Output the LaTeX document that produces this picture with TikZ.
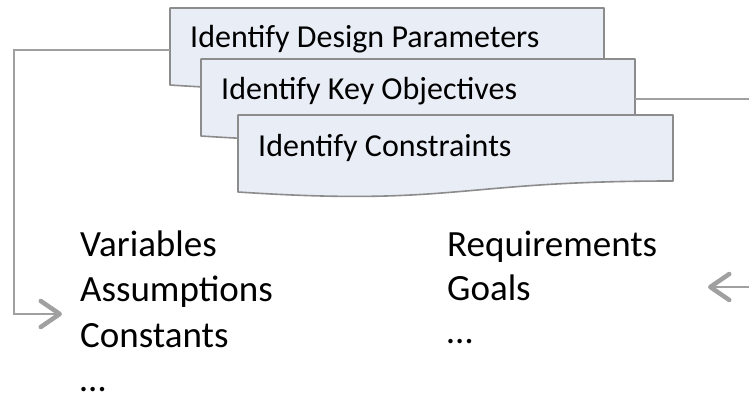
\documentclass[tikz,border=0pt]{standalone}
\usepackage{fontspec}
\setmainfont{Carlito}
\usetikzlibrary{arrows.meta}
\definecolor{boxfill}{HTML}{E9EDF6}
\definecolor{boxline}{HTML}{8C8C8C}
\definecolor{linkgray}{HTML}{A0A0A0}
\begin{document}
\begin{tikzpicture}[x=1pt,y=-1pt]
		\useasboundingbox (0,0) rectangle (749,401);
		\tikzset{docbox/.style={fill=boxfill,draw=boxline,line width=1.6pt,line join=round}} %document shapes
		\tikzset{boxtext/.style={anchor=base west,inner sep=0pt,font=\fontsize{32}{38}\selectfont}}
		\tikzset{listtext/.style={anchor=base west,inner sep=0pt,font=\fontsize{37}{45}\selectfont}}
		\tikzset{link/.style={draw=linkgray,line width=1.8pt,-{Straight Barb[length=19pt,width=26pt,line width'=4.5pt,round]}}}
		\draw[docbox] (170,8) -- (604,8) -- (604,74) .. controls (387,74) and (387,99.4) .. (170,85) -- cycle; % design parameters
		\draw[docbox] (201,59) -- (635,59) -- (635,125) .. controls (418,125) and (418,150.4) .. (201,136) -- cycle; % key objectives
		\draw[docbox] (238,115) -- (673,115) -- (673,181) .. controls (455.5,181) and (455.5,206.4) .. (238,192) -- cycle; % constraints
		\node[boxtext] (params) at (190,48) {Identify Design Parameters};
		\node[boxtext] (objectives) at (221,99.5) {Identify Key Objectives};
		\node[boxtext] (constraints) at (258,156.5) {Identify Constraints};
		\node[listtext] (variables) at (80,256) {Variables}; %left list
		\node[listtext] (assumptions) at (80,301.5) {Assumptions};
		\node[listtext] (constants) at (80,347) {Constants};
		\node[listtext] (moreleft) at (80,391) {…};
		\node[listtext] (requirements) at (447,256) {Requirements}; %right list
		\node[listtext] (goals) at (447,300.5) {Goals};
		\node[listtext] (moreright) at (447,343) {…};
		\coordinate (paramsout) at (170,50); %connector ends
		\coordinate (leftin) at (62,314);
		\coordinate (objout) at (635,99);
		\coordinate (rightin) at (708,287);
		\draw[link] (paramsout) -- (14,50) |- (leftin);
		\draw[link] (objout) -- (765,99) |- (rightin);
	\end{tikzpicture}
\end{document}
